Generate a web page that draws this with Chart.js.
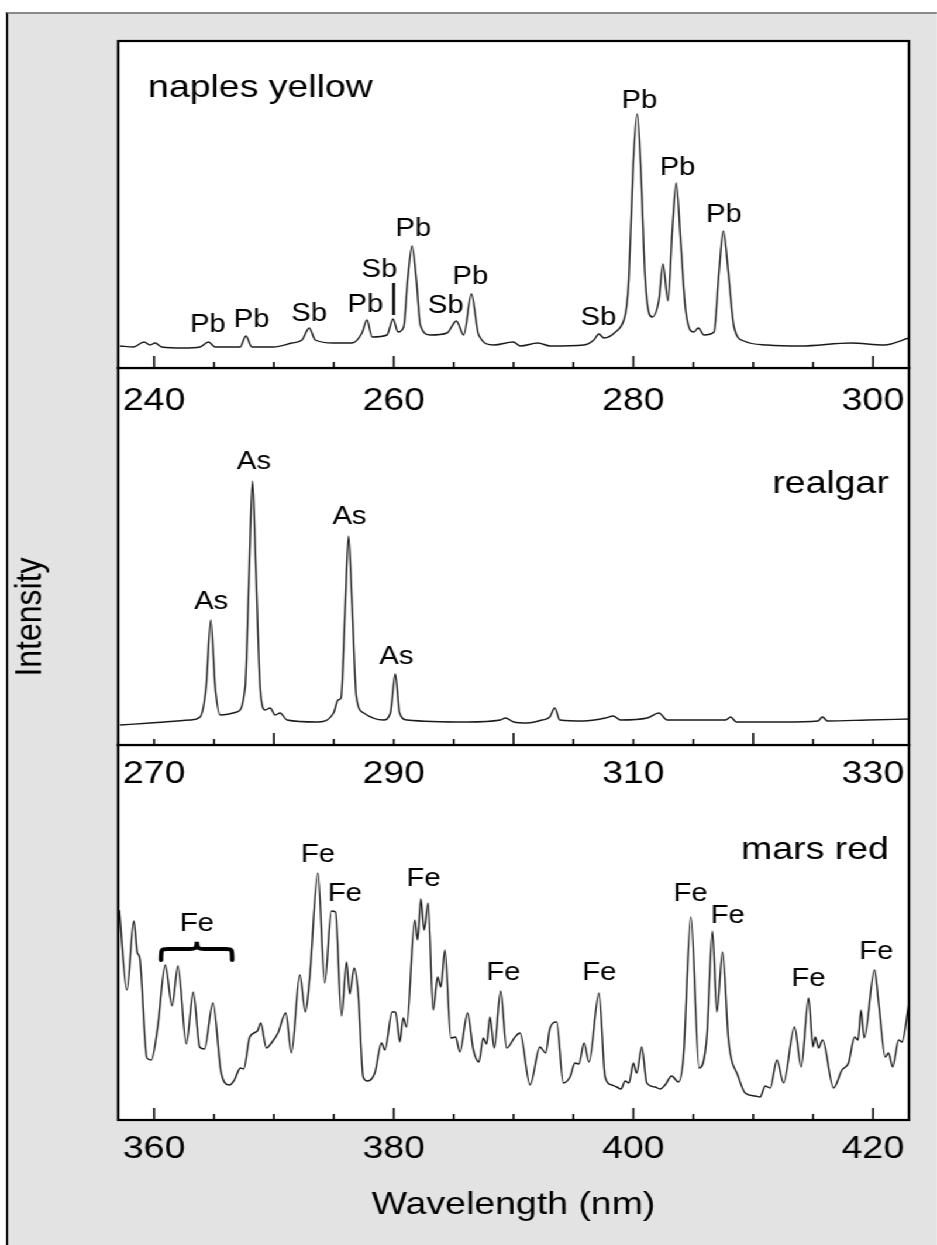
<!DOCTYPE html>
<html>
<head>
<meta charset="utf-8">
<title>LIBS spectra</title>
<script src="https://cdn.jsdelivr.net/npm/chart.js@4.4.0/dist/chart.umd.min.js"></script>
<style>
  html, body { margin: 0; padding: 0; background: #fff; overflow: hidden; }
  /* the original figure is a little wider than tall fonts suggest, so the whole drawing is stretched */
  #stretch { position: absolute; left: 0; top: 0; width: 801px; height: 1245px; transform: scaleX(1.1698); transform-origin: 0 0; }
  #frame { position: absolute; left: 5px; top: 12px; right: 0; bottom: 0; background: #e3e3e3; border-left: 2.5px solid #111; border-top: 2px solid #8a8a8a; }
  .panel { position: absolute; left: 0; width: 801px; }
</style>
</head>
<body>
<div id="stretch">
  <div id="frame"></div>
  <div class="panel" style="top:717px;height:528px;z-index:1"><canvas id="mars_chart"></canvas></div>
  <div class="panel" style="top:340px;height:477px;z-index:2"><canvas id="realgar_chart"></canvas></div>
  <div class="panel" style="top:0px;height:440px;z-index:3"><canvas id="naples_chart"></canvas></div>
</div>
<script>
// ---- naples yellow (wavelength nm / intensity a.u.)
const naplesWavelength = [237.16, 238.27, 239.16, 239.67, 240.08, 240.64, 242.45, 243.84, 244.54, 245.1,
	247.18, 247.66, 248.16, 249.97, 251.5, 252.34, 252.95, 253.45, 254.98, 256.52,
	257.35, 257.77, 258.19, 259.44, 259.94, 260.36, 260.83, 261.16, 261.53, 261.89,
	262.22, 263.06, 264.45, 265.23, 265.84, 266.48, 267.09, 268.35, 269.97, 270.58,
	272.02, 273.08, 275.87, 276.7, 277.12, 277.54, 278.51, 279.21, 279.43, 279.62,
	279.99, 280.32, 280.66, 280.96, 281.3, 281.58, 282.13, 282.47, 282.89, 283.25,
	283.58, 283.94, 284.36, 285.05, 285.42, 285.89, 286.73, 287.14, 287.51, 287.93,
	288.4, 289.23, 291.19, 293.97, 298.15, 300.93, 303.0];
const naplesIntensity = [22, 21, 26, 23, 25, 21, 20, 21, 26, 21,
	21, 32, 21, 21, 25, 28, 40, 28, 25, 25,
	35, 48, 31, 33, 49, 36, 41, 88, 122, 88,
	43, 33, 35, 47, 33, 74, 33, 23, 26, 22,
	25, 22, 23, 28, 34, 30, 36, 48, 61, 88,
	205, 254, 188, 95, 55, 51, 68, 104, 67, 138,
	185, 128, 58, 36, 40, 33, 36, 95, 137, 95,
	41, 27, 23, 22, 25, 23, 30];
const naplesTicks = [240, 260, 280, 300];
const naplesLabels = ['Pb', 'Pb', 'Sb', 'Pb', 'Sb', 'Pb', 'Sb', 'Pb', 'Sb', 'Pb', 'Pb', 'Pb'];
const naplesLabelAt = [244.49, 248.13, 252.95, 257.63, 258.8, 261.64, 264.35, 266.4, 277.08, 280.5, 283.69, 287.55];
const naplesLabelHeight = [43, 48, 54, 63, 98, 139, 62, 91, 50, 267, 200, 153];

// ---- realgar
const realgarWavelength = [267.16, 269.67, 273.0, 273.84, 274.34, 274.73, 275.1, 275.51, 276.91, 277.6,
	277.94, 278.21, 278.5, 278.86, 279.27, 279.69, 280.1, 280.52, 281.09, 283.59,
	284.98, 285.35, 285.6, 285.96, 286.23, 286.52, 286.88, 287.49, 289.16, 289.72,
	290.13, 290.49, 291.11, 296.12, 298.9, 299.32, 300.02, 301.13, 302.39, 303.02,
	303.44, 303.86, 305.86, 307.68, 308.32, 308.93, 311.16, 312.13, 312.83, 315.61,
	317.7, 318.12, 318.6, 322.57, 325.4, 325.78, 326.2, 329.54, 333.0];
const realgarIntensity = [20, 22, 25, 28, 58, 125, 58, 30, 33, 58,
	175, 264, 175, 55, 35, 37, 30, 32, 25, 23,
	32, 45, 47, 142, 209, 142, 48, 32, 25, 32,
	71, 32, 25, 23, 25, 27, 23, 22, 25, 28,
	37, 25, 24, 27, 29, 25, 27, 32, 25, 25,
	25, 28, 23, 23, 24, 28, 24, 25, 26];
const realgarTicks = [270, 290, 310, 330];
const realgarLabels = ['As', 'As', 'As', 'As'];
const realgarLabelAt = [274.76, 278.33, 286.31, 290.22];
const realgarLabelHeight = [143, 283, 228, 88];

// ---- mars red
const marsWavelength = [357.1, 357.73, 358.31, 358.6, 358.79, 359.4, 359.77, 360.3, 360.93, 361.5,
	361.99, 362.69, 363.27, 363.8, 364.2, 364.91, 365.6, 366.3, 366.7, 367.2,
	367.48, 367.98, 368.62, 368.9, 369.37, 369.79, 370.34, 370.99, 371.46, 372.16,
	372.63, 372.99, 373.67, 374.24, 374.8, 375.14, 375.64, 376.06, 376.33, 376.7,
	377.03, 377.45, 377.81, 378.42, 378.98, 379.26, 379.87, 380.15, 380.51, 380.79,
	381.07, 381.76, 381.99, 382.26, 382.54, 382.87, 383.29, 383.66, 383.94, 384.27,
	384.77, 385.16, 385.52, 386.16, 386.63, 387.11, 387.47, 387.75, 388.03, 388.39,
	388.92, 389.42, 390.12, 390.54, 391.38, 392.2, 392.68, 393.04, 393.6, 394.15,
	394.71, 395.13, 395.46, 395.88, 396.3, 397.13, 397.64, 398.19, 398.61, 398.97,
	399.31, 399.64, 400.0, 400.28, 400.7, 401.12, 401.81, 402.23, 402.65, 403.2,
	403.76, 404.18, 404.8, 405.49, 406.13, 406.6, 406.97, 407.44, 407.94, 408.77,
	409.33, 410.17, 410.58, 411.0, 411.42, 411.98, 412.53, 413.45, 414.01, 414.62,
	414.99, 415.18, 415.46, 415.79, 416.71, 417.41, 417.96, 418.46, 418.75, 419.0,
	419.27, 420.13, 420.47, 421.03, 421.3, 421.64, 422.14, 422.42, 422.97];
const marsIntensity = [210, 130, 199, 167, 163, 62, 60, 93, 155, 114,
	154, 76, 128, 73, 71, 117, 47, 35, 40, 52,
	51, 83, 89, 97, 72, 77, 87, 107, 67, 145,
	108, 143, 247, 137, 209, 208, 104, 158, 126, 152,
	127, 43, 39, 47, 77, 70, 108, 108, 78, 102,
	93, 200, 180, 221, 190, 217, 110, 143, 133, 170,
	82, 83, 68, 107, 71, 58, 82, 76, 103, 72,
	129, 72, 83, 87, 35, 73, 67, 92, 98, 37,
	43, 57, 56, 77, 58, 127, 43, 35, 33, 31,
	39, 37, 57, 47, 73, 37, 33, 31, 35, 44,
	38, 63, 203, 52, 83, 189, 108, 168, 80, 43,
	27, 24, 23, 34, 32, 60, 37, 93, 53, 122,
	73, 83, 72, 80, 32, 50, 57, 83, 80, 110,
	82, 150, 117, 63, 67, 53, 80, 78, 115];
const marsTicks = [360, 380, 400, 420];
const marsLabels = ['Fe', 'Fe', 'Fe', 'Fe', 'Fe', 'Fe', 'Fe', 'Fe', 'Fe', 'Fe'];
const marsLabelAt = [363.57, 373.68, 375.93, 382.5, 389.16, 397.15, 404.78, 407.87, 414.62, 420.28];
const marsLabelHeight = [196, 265, 226, 241, 147, 147, 226, 204, 141, 168];

const FONT = '"Liberation Sans", Arial, Helvetica, sans-serif';
Chart.defaults.font.family = FONT;
Chart.defaults.color = '#000';

function toPoints(xs, ys){
	return xs.map((x, i) => ({x: x, y: ys[i]}));
}

// white plot box, frame, inward tick marks and the peak labels
function panelPlugin(cfg){
	return {
		id: 'panel',
		beforeDraw(chart){
			const a = chart.chartArea, ctx = chart.ctx;
			ctx.save();
			ctx.fillStyle = '#fff';
			ctx.fillRect(a.left, a.top, a.right - a.left, a.bottom - a.top);
			ctx.restore();
		},
		afterDraw(chart){
			const a = chart.chartArea, ctx = chart.ctx;
			const xs = chart.scales.x, ys = chart.scales.y;
			ctx.save();
			ctx.strokeStyle = '#000';
			ctx.lineWidth = 1.6;
			xs.ticks.forEach(t => {
				const px = xs.getPixelForValue(t.value);
				const len = t.value % 20 === 0 ? 12 : 6;
				ctx.beginPath();
				ctx.moveTo(px, a.bottom);
				ctx.lineTo(px, a.bottom - len);
				ctx.stroke();
			});
			ctx.lineWidth = 2.2;
			ctx.strokeRect(a.left, a.top, a.right - a.left, a.bottom - a.top);

			ctx.fillStyle = '#000';
			ctx.font = '25px ' + FONT;
			ctx.textAlign = 'center';
			ctx.textBaseline = 'middle';
			cfg.labels.forEach((txt, i) => {
				ctx.fillText(txt, xs.getPixelForValue(cfg.labelAt[i]), ys.getPixelForValue(cfg.labelHeight[i]));
			});

			ctx.font = '32px ' + FONT;
			ctx.textBaseline = 'alphabetic';
			ctx.textAlign = cfg.nameAlign;
			ctx.fillText(cfg.name, xs.getPixelForValue(cfg.nameAt[0]), ys.getPixelForValue(cfg.nameAt[1]));

			if(cfg.extra) cfg.extra(chart, ctx, xs, ys);
			ctx.restore();
		}
	};
}

function makeChart(id, cfg){
	return new Chart(document.getElementById(id).getContext('2d'), {
		type: 'line',
		data: {
			datasets: [{
				data: toPoints(cfg.wavelength, cfg.intensity),
				borderColor: '#1a1a1a',
				borderWidth: 1.4,
				pointRadius: 0,
				fill: false,
				cubicInterpolationMode: 'monotone'
			}]
		},
		options: {
			responsive: true,
			maintainAspectRatio: false,
			animation: false,
			events: [],
			layout: { padding: { left: 101, right: 24, top: cfg.padTop, bottom: 0 } },
			plugins: { legend: { display: false }, tooltip: { enabled: false } },
			scales: {
				x: {
					type: 'linear',
					min: cfg.range[0],
					max: cfg.range[1],
					grid: { display: false, drawTicks: false },
					border: { display: false },
					ticks: {
						stepSize: 5,
						includeBounds: false,
						autoSkip: false,
						maxRotation: 0,
						padding: cfg.tickPad,
						font: { size: 32 },
						color: '#000',
						callback: v => cfg.ticks.includes(v) ? String(v) : ''
					},
					title: cfg.title ? {
						display: true,
						text: cfg.title,
						font: { size: 32 },
						color: '#000',
						padding: { top: 0, bottom: 21 }
					} : { display: false },
					afterFit: scale => { scale.height = cfg.axisHeight; }
				},
				y: { display: false, min: 0, max: cfg.yMax }
			}
		},
		plugins: [panelPlugin(cfg)]
	});
}

makeChart('naples_chart', {
	wavelength: naplesWavelength, intensity: naplesIntensity,
	range: [237, 303], ticks: naplesTicks, yMax: 327,
	padTop: 41, axisHeight: 72, tickPad: 14,
	labels: naplesLabels, labelAt: naplesLabelAt, labelHeight: naplesLabelHeight,
	name: 'naples yellow', nameAlign: 'left', nameAt: [239.5, 271.5],
	extra: (chart, ctx, xs, ys) => {
		// marker under the second Sb label
		ctx.lineWidth = 2.4;
		ctx.beginPath();
		ctx.moveTo(xs.getPixelForValue(259.99), ys.getPixelForValue(85));
		ctx.lineTo(xs.getPixelForValue(259.99), ys.getPixelForValue(53));
		ctx.stroke();
	}
});

makeChart('realgar_chart', {
	wavelength: realgarWavelength, intensity: realgarIntensity,
	range: [267, 333], ticks: realgarTicks, yMax: 377,
	padTop: 28, axisHeight: 72, tickPad: 10,
	labels: realgarLabels, labelAt: realgarLabelAt, labelHeight: realgarLabelHeight,
	name: 'realgar', nameAlign: 'right', nameAt: [331.32, 251.7],
	extra: (chart, ctx) => {
		// shared y title for the three panels
		ctx.font = '32px ' + FONT;
		ctx.textAlign = 'center';
		ctx.textBaseline = 'middle';
		ctx.translate(26.5, chart.chartArea.top + 249);
		ctx.rotate(-Math.PI / 2);
		ctx.fillText('Intensity', 0, 0);
	}
});

makeChart('mars_chart', {
	wavelength: marsWavelength, intensity: marsIntensity,
	range: [357, 423], ticks: marsTicks, yMax: 375,
	padTop: 28, axisHeight: 125, tickPad: 10,
	title: 'Wavelength (nm)',
	labels: marsLabels, labelAt: marsLabelAt, labelHeight: marsLabelHeight,
	name: 'mars red', nameAlign: 'right', nameAt: [421.32, 261],
	extra: (chart, ctx, xs, ys) => {
		// curly brace grouping the first Fe lines
		const xl = xs.getPixelForValue(360.58), xr = xs.getPixelForValue(366.52), xc = xs.getPixelForValue(363.57);
		const yE = ys.getPixelForValue(160), yB = ys.getPixelForValue(171), yT = ys.getPixelForValue(178.3);
		ctx.lineWidth = 3.8;
		ctx.lineCap = 'round';
		ctx.beginPath();
		ctx.moveTo(xl, yE);
		ctx.bezierCurveTo(xl, yB, xl, yB, xl + 6, yB);
		ctx.lineTo(xc - 6, yB);
		ctx.bezierCurveTo(xc - 2, yB, xc, yB, xc, yT);
		ctx.bezierCurveTo(xc, yB, xc + 2, yB, xc + 6, yB);
		ctx.lineTo(xr - 6, yB);
		ctx.bezierCurveTo(xr, yB, xr, yB, xr, yE);
		ctx.stroke();
	}
});
</script>
</body>
</html>
